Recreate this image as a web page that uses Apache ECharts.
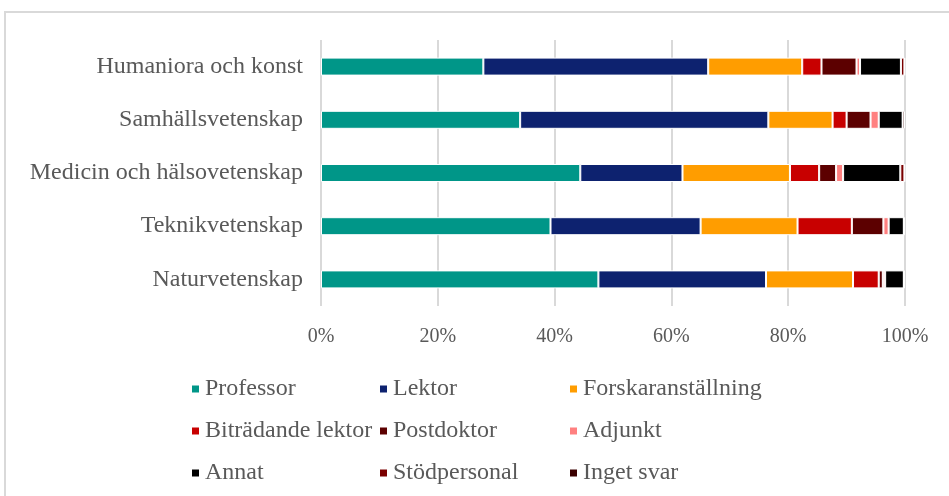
<!DOCTYPE html>
<html>
<head>
<meta charset="utf-8">
<script src="https://cdn.jsdelivr.net/npm/echarts@6/dist/echarts.min.js"></script>
<style>
  html, body { margin: 0; padding: 0; background: #fff; }
  #charts { width: 949px; height: 496px; }
</style>
</head>
<body>
<div id="charts"></div>
<script>
    var myChart = echarts.init(document.getElementById('charts'));

    // kategorier, uppifrån och ned
    var omraden = ['Humaniora och konst', 'Samhällsvetenskap', 'Medicin och hälsovetenskap', 'Teknikvetenskap', 'Naturvetenskap'];
    var ticks = ['0%', '20%', '40%', '60%', '80%', '100%'];

    // andelar i procent
    var professor = [27.8, 34.1, 44.4, 39.3, 47.5];
    var lektor = [38.5, 42.5, 17.5, 25.7, 28.7];
    var forskar = [16.1, 11.0, 18.4, 16.6, 14.9];
    var bitradande = [3.3, 2.4, 5.0, 9.3, 4.4];
    var postdoktor = [6.0, 4.1, 2.9, 5.4, 0.7];
    var adjunkt = [0.6, 1.4, 1.2, 0.9, 0.4];
    var annat = [7.0, 4.1, 9.8, 2.6, 3.2];
    var stodpersonal = [0.6, 0, 0.7, 0, 0];
    var ingetSvar = [0.1, 0.4, 0.1, 0.2, 0.2];

    var serier = [
        ['Professor', professor, '#009688'],
        ['Lektor', lektor, '#0d226f'],
        ['Forskaranställning', forskar, '#ff9d00'],
        ['Biträdande lektor', bitradande, '#c80000'],
        ['Postdoktor', postdoktor, '#5c0000'],
        ['Adjunkt', adjunkt, '#ff8080'],
        ['Annat', annat, '#000000'],
        ['Stödpersonal', stodpersonal, '#7a0000'],
        ['Inget svar', ingetSvar, '#3a0000']
    ];

    var series = serier.map(function (s) {
        return {
            name: s[0],
            type: 'bar',
            stack: 'total',
            barWidth: 18,
            data: s[1],
            itemStyle: { color: s[2], borderColor: '#fff', borderWidth: 1 }
        };
    });

    function legendCol(names, left) {
        return {
            orient: 'vertical',
            left: left,
            top: 372,
            itemWidth: 9,
            itemHeight: 9,
            itemGap: 18,
            icon: 'rect',
            data: names,
            textStyle: { fontFamily: 'Liberation Serif', fontSize: 24, color: '#595959', padding: [0, 0, 0, 0] }
        };
    }

    myChart.setOption({
        animation: false,
        graphic: [{
            type: 'rect',
            shape: { x: 5, y: 12, width: 1000, height: 600 },
            style: { fill: 'none', stroke: '#d9d9d9', lineWidth: 2 },
            silent: true
        }],
        legend: [
            legendCol(['Professor', 'Biträdande lektor', 'Annat'], 185),
            legendCol(['Lektor', 'Postdoktor', 'Stödpersonal'], 373),
            legendCol(['Forskaranställning', 'Adjunkt', 'Inget svar'], 563)
        ],
        grid: { left: 321, right: 44, top: 40, height: 266 },
        xAxis: {
            type: 'value',
            min: 0,
            max: 100,
            interval: 20,
            axisLine: { show: false },
            axisTick: { show: false },
            axisLabel: {
                margin: 21,
                fontFamily: 'Liberation Serif',
                fontSize: 20,
                color: '#595959',
                formatter: function (v) { return ticks[v / 20]; }
            },
            splitLine: { lineStyle: { color: '#d9d9d9', width: 2 } }
        },
        yAxis: {
            type: 'category',
            inverse: true,
            data: omraden,
            axisLine: { show: false },
            axisTick: { show: false },
            axisLabel: {
                margin: 18,
                fontFamily: 'Liberation Serif',
                fontSize: 24,
                color: '#595959'
            }
        },
        series: series
    });
</script>
</body>
</html>
